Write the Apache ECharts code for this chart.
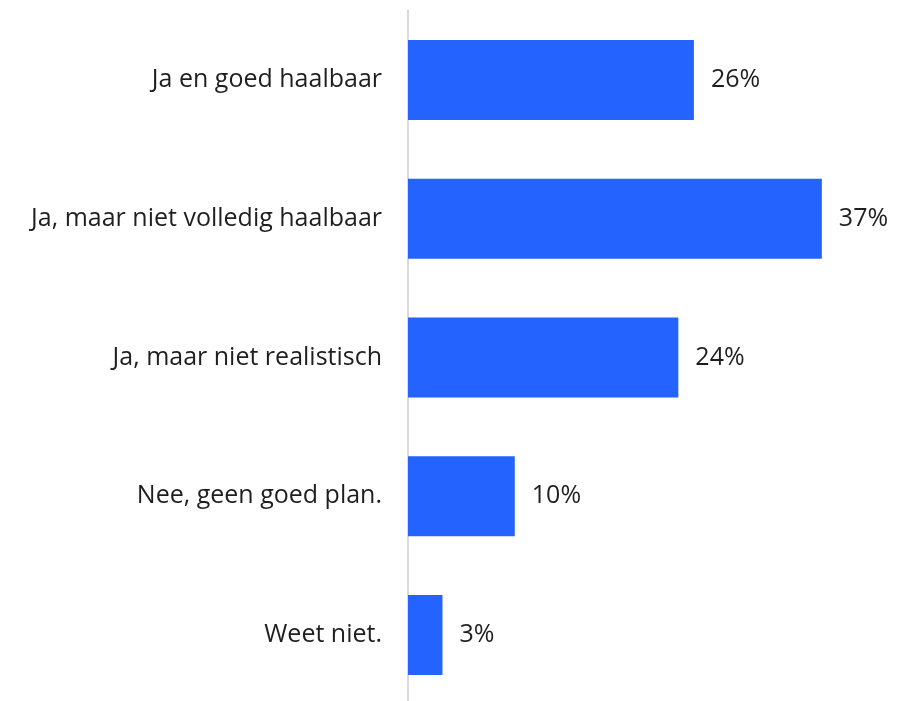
<!DOCTYPE html>
<html>
<head>
<meta charset="utf-8">
<script src="https://cdn.jsdelivr.net/npm/echarts@6/dist/echarts.min.js"></script>
<style>html,body{margin:0;padding:0;background:#fff;}#c{width:897px;height:701px;}</style>
</head>
<body>
<div id="c"></div>
<script>
const categories = ["Ja en goed haalbaar", "Ja, maar niet volledig haalbaar", "Ja, maar niet realistisch", "Nee, geen goed plan.", "Weet niet."];
const values = [25.7, 37.2, 24.3, 9.6, 3.1];

const chart = echarts.init(document.getElementById('c'));
chart.setOption({
  animation: false,
  grid: { left: 408, width: 445, top: 10.6, height: 693.8, containLabel: false, outerBoundsMode: 'none' },
  xAxis: {
    type: 'value', min: 0, max: 40,
    show: false
  },
  yAxis: {
    type: 'category', inverse: true, data: categories,
    axisLine: { show: true, lineStyle: { color: '#d9d9d9', width: 2 } },
    axisTick: { show: false },
    axisLabel: { margin: 26, fontSize: 25, color: '#1f1f1f', fontFamily: 'Open Sans' }
  },
  series: [{
    type: 'bar', data: values, barWidth: 80,
    itemStyle: { color: '#2563ff' },
    label: {
      show: true, position: 'right', distance: 17,
      fontSize: 25, color: '#1f1f1f', fontFamily: 'Open Sans',
      formatter: p => Math.round(p.value) + '%'
    }
  }]
});
</script>
</body>
</html>
